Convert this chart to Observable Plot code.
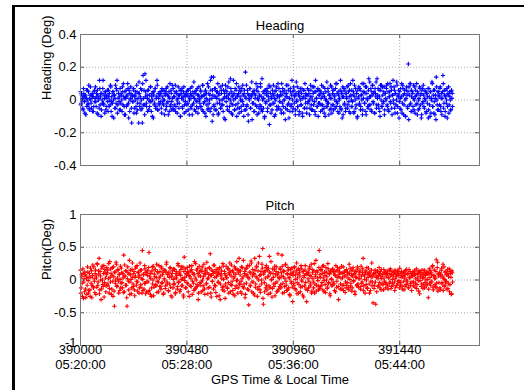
<!DOCTYPE html>
<html><head><meta charset="utf-8">
<script src="https://cdn.jsdelivr.net/npm/d3@7"></script>
<script src="https://cdn.jsdelivr.net/npm/@observablehq/plot@0.6"></script>
<style>
body{margin:0;background:#fff;}
#fig{position:relative;width:524px;height:390px;overflow:hidden;background:#fff;font-family:"Liberation Sans",Arial,sans-serif;}
#fig svg{position:absolute;left:0;}
.bl{position:absolute;background:#000;}
</style></head><body>
<div id="fig"><div class="bl" style="left:12px;top:5px;width:3px;bottom:0"></div><div class="bl" style="left:12px;top:5px;right:0;height:2px"></div></div>
<script>
// GPS seconds of week: series A sampled at t0 + 3i, series B at t0 + 1.5 + 3i
const t0 = 390000, dt = 3;
const headingA = [
.05,-.02,.03,.01,-.06,.04,-.01,.02,-.09,.06,.00,-.03,.05,-.05,.01,.08,-.02,.03,-.07,.02,
-.04,.06,.01,-.01,.04,-.08,.03,.00,-.05,.07,.02,-.10,.04,-.02,.12,-.03,.01,.05,-.06,.02,
.03,-.01,.06,-.04,.00,.09,-.07,.02,-.02,.05,-.11,.03,.01,-.05,.07,.12,-.03,.04,-.01,.02,
-.06,.04,.00,.08,-.03,.02,-.09,.05,.01,-.04,.03,.10,-.02,.06,-.07,.01,.04,-.14,.02,-.01,
.07,-.05,.03,.00,-.08,.05,-.02,.04,.11,-.04,.02,-.06,.06,-.14,.15,.01,-.03,.16,.05,-.02,
.03,-.07,.06,.00,-.04,.08,-.01,.02,-.10,.05,.03,-.03,.07,-.05,.01,.12,-.06,.04,-.02,.03,
-.01,.05,-.08,.02,.06,-.03,.00,.04,-.06,.07,-.02,.03,-.09,.05,.01,-.04,.06,-.01,.09,-.05,
.02,-.03,.05,-.07,.04,.00,-.02,.08,-.05,.03,-.10,.06,.01,-.04,.02,.05,-.08,.03,-.01,.04,
-.03,.06,-.06,.02,.00,.07,-.04,.03,-.09,.05,-.02,.01,.04,-.07,.06,-.01,.03,-.05,.08,.00,
-.04,.05,.02,-.06,.09,-.02,.03,-.08,.06,.01,-.03,.10,-.05,.04,.00,-.07,.06,.14,-.13,.03,
.14,-.04,.02,.07,-.06,.01,.05,-.09,.03,-.02,.08,-.05,.04,.00,-.03,.06,-.11,.02,.09,-.01,
.05,-.06,.03,.11,-.04,.00,.07,-.08,.02,-.03,.12,.04,-.06,.01,.06,-.10,.03,-.02,.08,-.05,
.02,.05,-.07,.00,.09,-.03,.04,-.06,.17,.01,-.04,.06,-.09,.03,.00,.07,-.05,.02,-.12,.04,
-.02,.06,-.07,.03,.10,-.04,.01,.05,-.08,.02,-.03,.08,-.06,.13,.00,-.05,.04,-.10,.06,-.01,
.03,-.07,.05,.00,-.15,.08,-.03,.02,-.06,.04,.09,-.02,.01,-.09,.06,-.04,.03,.10,-.05,.02,
-.01,.05,-.08,.03,.07,-.04,.00,.06,-.12,.02,.04,-.06,.09,-.02,.01,-.07,.05,-.03,.12,.00,
-.05,.06,.02,-.09,.04,-.01,.08,-.04,.03,-.07,.05,.00,-.03,.07,-.10,.02,.06,-.05,.01,.04,
-.08,.03,-.02,.06,.00,-.05,.09,-.03,.02,-.06,.04,.08,-.01,-.09,.05,.01,-.04,.07,-.02,.03,
.06,-.07,.01,.04,-.03,.08,-.05,.02,-.10,.05,.00,-.04,.07,-.02,.03,-.06,.09,.01,-.08,.04,
-.03,.06,.02,-.05,.10,-.01,.04,-.07,.03,.00,-.04,.12,-.06,.05,.02,-.09,.07,-.02,.04,-.05,
.01,.08,-.03,.05,-.07,.02,.10,-.04,.06,-.01,.03,-.08,.09,.00,-.05,.04,-.11,.06,.02,-.03,
.07,-.06,.03,.00,-.09,.05,.10,-.02,.04,-.07,.08,.01,-.04,.06,-.03,.11,.02,-.06,.05,.09,
-.01,.04,-.08,.07,.02,-.05,.13,.03,-.03,.06,-.07,.09,.00,-.04,.08,-.02,.05,-.09,.04,.01,
.07,-.03,.10,-.06,.02,.05,-.01,.08,-.05,.03,.12,-.02,.06,-.08,.04,.00,.09,-.04,.03,-.11,
.05,.01,-.06,.10,-.02,.07,-.09,.04,.00,-.10,.06,.03,-.05,.22,.08,-.03,.10,-.07,.02,.05,
-.04,.09,.00,-.08,.06,.03,-.02,.05,-.06,.01,.08,-.03,.04,-.09,.07,-.01,.03,-.05,.06,.00,
-.07,.04,.02,-.11,.07,-.03,.05,-.08,.01,.10,-.04,.06,-.01,-.09,.03,.14,.00,-.06,.05,.02,
-.03,.08,-.07,.04,.01,.15,-.05,.06,-.10,.02,-.02,.07,-.04,.03,-.08,.05,.00,-.06,.06,.04
];
const headingB = [
-.03,.04,.00,-.05,.07,.02,-.08,.03,.01,-.04,.06,-.02,.09,-.06,.03,.00,-.05,.04,.02,-.07,
.05,-.01,.08,-.04,.02,.06,-.09,.01,.12,-.03,.04,-.06,.00,.07,-.02,.03,-.08,.05,.01,-.04,
.06,-.07,.02,.04,-.03,.08,-.01,-.10,.05,.00,.03,-.05,.09,-.02,.06,-.08,.01,.04,-.06,.07,
-.02,.03,-.07,.05,.10,-.04,.01,-.09,.06,.02,-.03,.07,-.11,.04,.00,.08,-.05,.03,-.01,.06,
-.08,.02,.05,-.04,.09,-.06,.01,-.14,.04,-.02,.07,.00,-.05,.10,-.03,.06,-.09,.02,.12,-.04,
.01,.06,-.06,.03,-.01,.08,-.07,.04,.00,-.11,.05,-.02,.07,-.04,.02,.09,-.06,.01,-.03,.05,
.04,-.05,.07,-.02,.00,.06,-.09,.03,.05,-.04,.08,-.01,.02,-.07,.10,-.03,.04,-.06,.01,.07,
-.06,.02,.09,-.04,.05,-.08,.01,.03,-.02,.06,-.10,.04,.07,-.05,.00,.08,-.03,.02,-.07,.05,
.03,-.02,.06,-.09,.01,.04,-.05,.08,-.03,.02,.11,-.06,.05,.00,-.04,.07,-.08,.03,.01,-.02,
.06,-.04,.02,.09,-.07,.03,-.01,.05,-.10,.04,.00,-.06,.08,-.02,.03,.12,-.05,.01,.06,-.09,
-.03,.07,-.06,.02,.05,-.02,.10,-.08,.04,.00,-.05,.06,-.03,.09,-.07,.01,.04,-.12,.06,.02,
-.04,.08,.01,-.07,.04,.13,-.02,.05,-.09,.03,.00,-.06,.07,-.03,.10,.02,-.05,.04,-.08,.06,
.00,-.04,.07,-.01,.03,-.10,.06,.02,-.06,.09,-.03,.04,-.13,.01,.07,-.05,.03,.11,-.02,.05,
-.07,.04,.01,-.03,.06,-.09,.08,.00,-.05,.03,.10,-.04,.02,-.07,.05,.01,-.11,.06,-.02,.04,
.07,-.05,.02,.09,-.03,.04,-.08,.01,.06,-.02,.03,-.10,.05,.00,.08,-.06,.02,-.04,.07,-.01,
.03,-.06,.10,-.02,.05,-.08,.00,.04,-.05,.09,.02,-.03,.06,-.11,.01,.07,-.04,.03,-.07,.05,
.08,-.02,.03,-.06,.11,.00,-.04,.05,-.09,.02,.07,-.03,.04,-.08,.01,.06,-.05,.10,-.02,.03,
-.05,.07,-.01,.04,-.09,.02,.06,-.06,.00,.08,-.03,.05,-.07,.12,.01,-.04,.06,-.10,.03,-.02,
.05,-.03,.09,-.06,.02,.04,-.08,.07,.00,-.04,.11,-.02,.05,-.09,.03,.01,-.05,.08,-.03,.06,
-.06,.03,.00,.07,-.04,.10,-.02,.05,-.08,.01,.06,-.05,.04,-.11,.08,.02,-.03,.06,-.07,.04,
.02,-.05,.09,-.01,.06,-.08,.03,.00,-.04,.12,.05,-.07,.02,.07,-.03,.04,-.10,.01,.08,-.02,
.06,-.04,.03,.10,-.06,.01,.05,-.02,.08,-.09,.04,.00,-.05,.13,.02,-.03,.07,-.07,.03,.09,
-.02,.05,-.08,.04,.11,-.03,.01,.07,-.05,.02,-.10,.06,.09,-.04,.03,-.01,.08,-.06,.04,.00,
.09,-.04,.05,-.07,.02,.10,-.02,.06,-.09,.03,.00,.08,-.05,.04,-.03,.11,-.08,.02,.06,-.01,
-.05,.07,.02,-.08,.09,.03,-.03,.06,-.10,.01,.08,-.04,.05,-.12,.03,.10,-.02,.06,-.07,.04,
.01,-.06,.08,.02,-.03,.10,-.09,.04,.00,-.05,.07,.03,-.11,.06,-.02,.09,-.04,.01,.05,-.08,
.04,-.02,.07,-.06,.02,-.10,.05,.00,.11,-.04,.03,-.08,.06,.01,-.12,.08,-.03,.05,-.06,.03,
.07,-.04,.01,-.09,.05,.10,-.02,.03,-.07,.06,.00,-.11,.04,.08,-.03,.02,-.06,.05,.01,-.04
];
const pitchA = [
.15,-.12,.05,-.25,.10,-.03,-.18,.08,-.27,.02,-.08,.12,-.20,.04,-.15,.18,-.05,-.27,.07,-.10,
.20,-.02,.10,-.22,.03,.25,-.08,.14,.33,-.15,.06,-.30,.18,.00,-.10,.22,-.04,.12,-.18,.08,
-.06,.15,.02,-.20,.28,-.03,.10,-.14,.19,-.25,.05,-.40,.12,.00,.24,-.09,.16,-.02,.08,-.16,
.21,-.05,.11,-.12,.03,.38,-.18,.06,.14,-.08,-.40,.20,-.02,.09,-.22,.15,.01,-.12,.26,-.06,
.10,-.15,.04,.18,-.08,.22,-.03,.12,-.20,.07,.15,-.11,.02,.45,-.16,.08,-.05,.17,-.21,.11,
-.02,.14,-.18,.42,.05,-.22,.10,-.12,.20,.00,-.24,.09,.16,-.07,.04,-.19,.13,-.03,.22,-.10,
.06,-.14,.18,-.04,.11,-.20,.02,.15,-.09,.24,-.03,.08,-.16,.12,-.06,.19,-.24,.05,.10,-.12,
.17,-.05,.03,-.19,.13,.07,-.10,.22,-.02,.09,-.15,.16,.01,-.08,.20,-.26,.35,.04,-.12,.10,
-.04,.13,-.18,.07,.21,-.09,.02,.16,-.22,.11,-.05,.08,-.14,.25,.00,-.10,.18,-.30,.06,.12,
-.08,.15,-.03,.20,-.16,.05,.10,-.22,.14,-.06,.27,.02,-.12,.09,.18,.40,-.20,.07,-.02,.13,
-.14,.22,.04,-.09,.16,-.25,.08,.12,-.04,.19,-.30,.06,.14,-.11,.25,.01,-.17,.10,-.06,.21,
.03,-.13,.18,-.20,.09,.14,-.07,.23,-.02,-.16,.11,.05,-.24,.17,-.09,.28,.00,-.12,.15,-.05,
.08,-.18,.20,.02,-.10,.30,-.06,.13,-.22,.07,.18,-.14,.04,-.38,.22,-.08,.11,.26,-.03,.16,
-.20,.09,.33,-.11,.05,.20,-.25,.14,.00,.36,-.15,.08,-.06,.24,.48,-.37,.12,-.18,.03,.19,
-.08,.15,-.22,.06,.36,-.12,.10,.00,-.26,.17,.04,-.10,.21,-.05,.13,-.18,.08,.40,-.14,.02,
.18,-.07,.11,.38,-.20,.05,.14,-.10,.23,-.02,-.16,.09,.19,-.12,.03,-.24,.16,-.05,.10,-.33,
.12,-.08,.20,.01,-.15,.26,-.04,.09,-.20,.15,.06,-.11,.18,-.02,-.23,.13,.04,-.09,.22,-.14,
-.33,.10,.02,-.12,.17,.07,-.06,.24,-.17,.11,-.03,.14,-.20,.05,.30,-.08,.12,-.01,-.15,.45,
.08,-.10,.16,-.04,.21,.03,-.18,.12,-.07,.19,.00,-.13,.25,-.05,.10,-.21,.14,.02,-.09,.17,
-.03,.13,-.16,.07,.22,-.11,.04,.15,-.30,.09,.18,-.06,.11,-.14,.03,.20,-.08,.12,-.19,.06,
.16,-.04,.09,-.12,.24,.01,-.09,.14,-.17,.06,.19,-.02,.10,-.22,.13,.04,-.07,.17,-.11,.08,
.02,-.14,.21,-.05,.11,.33,-.09,.06,-.20,.14,.00,-.12,.09,.18,-.06,.12,-.16,.05,.26,-.03,
-.35,.10,-.08,.15,-.37,.04,.12,-.10,.07,.19,-.04,.13,-.15,.02,.09,-.07,.16,-.02,.11,-.12,
.06,.14,-.09,.03,.10,-.05,.17,-.13,.08,.01,-.08,.12,-.03,.15,-.11,.05,.09,-.06,.13,-.01,
.18,-.08,.04,.11,-.14,.07,-.02,.12,-.10,.15,.00,-.06,.09,-.12,.16,.03,-.05,.10,-.16,.06,
.13,-.03,.08,-.11,.02,.17,-.07,.10,-.01,.14,-.21,.05,.11,-.06,.09,-.13,.04,.15,-.04,.07,
-.09,.12,.01,-.27,.10,-.05,.14,-.02,.08,.20,-.11,.06,.15,-.07,.03,.31,-.12,.27,.09,-.04,
.11,-.15,.05,.18,-.06,.24,.02,-.10,.12,-.03,.08,-.14,.16,-.05,.10,-.18,.13,.04,-.21,.11
];
const pitchB = [
-.20,.08,-.05,.17,-.28,.02,.12,-.14,.06,-.22,.20,-.01,-.16,.10,-.25,.04,.14,-.08,.23,-.12,
.02,-.19,.15,.06,-.11,.24,-.03,.09,-.21,.13,.00,-.14,.21,-.07,.10,-.26,.16,.03,-.09,.19,
.11,-.08,.25,-.13,.04,.17,-.22,.07,-.02,.20,-.17,.12,-.05,.27,-.10,.03,.15,-.20,.09,.01,
-.12,.18,-.04,.10,-.19,.06,.23,-.08,.14,-.27,.02,.11,-.15,.30,-.03,.08,-.21,.16,.04,-.10,
.13,-.24,.06,.20,-.02,-.17,.11,.04,-.12,.26,-.07,.15,-.20,.01,.09,-.14,.22,-.05,.12,-.18,
.07,-.03,.19,-.16,.10,.02,-.25,.14,-.06,.21,-.11,.05,.16,-.09,.24,-.02,.11,-.18,.03,.13,
-.10,.20,-.05,.08,-.22,.15,.00,-.13,.12,.27,-.06,.09,-.17,.04,.18,-.11,.06,-.26,.14,.01,
-.07,.16,-.21,.10,.03,-.14,.25,-.04,.12,-.18,.07,.20,-.09,.02,-.23,.13,-.01,.17,-.12,.08,
.19,-.06,.11,-.25,.05,.14,-.10,.22,-.02,.09,-.16,.28,.03,-.12,.15,-.07,.10,-.20,.21,-.04,
.06,-.18,.13,.00,-.09,.24,-.14,.08,.17,-.05,.11,-.21,.03,.19,-.11,.07,-.26,.15,-.02,.10,
.23,-.08,.12,-.19,.05,.16,-.03,.10,-.24,.18,-.06,.09,.02,-.15,.21,-.10,.13,-.28,.07,.04,
-.11,.17,-.04,.11,.26,-.18,.06,-.08,.14,-.22,.03,.20,-.13,.09,-.01,.16,-.20,.12,.33,-.07,
.14,-.02,-.21,.19,.05,-.12,.10,-.27,.17,-.05,.08,.22,-.15,.02,.12,-.09,.29,-.18,.06,-.03,
.10,-.23,.15,-.06,.21,.03,-.14,.26,-.10,.07,-.19,.13,.00,.18,-.28,.09,-.04,.14,-.12,.22,
-.15,.05,.18,-.09,.12,-.20,.28,.01,-.13,.10,-.06,.16,-.24,.08,.20,-.03,-.17,.11,.04,-.10,
.16,-.12,.06,.21,-.05,.13,-.19,.02,.24,-.08,.10,-.15,.15,.04,-.22,.09,-.02,.18,-.11,.07,
-.05,.19,-.13,.08,.14,-.21,.03,.17,-.07,.11,-.18,.22,.00,-.10,.13,-.26,.07,.15,-.04,.10,
.09,-.16,.12,-.02,.20,-.09,.05,-.20,.16,.02,-.12,.25,-.06,.08,-.17,.14,.03,-.09,.19,-.13,
.04,.15,-.08,.10,-.15,.22,-.01,.07,-.19,.12,.05,-.11,.17,-.04,.09,-.24,.13,.01,-.07,.16,
.11,-.06,.08,-.18,.14,-.02,.19,-.10,.05,.12,-.14,.03,.21,-.08,.10,-.16,.06,.14,-.03,-.12,
-.08,.12,.03,-.15,.10,.18,-.05,.07,-.12,.15,-.01,.09,-.18,.04,.13,-.09,.20,-.06,.02,.11,
.14,-.10,.06,-.03,.17,-.16,.08,.01,.12,-.07,.19,-.13,.04,.10,-.20,.07,-.02,.15,-.09,.05,
.09,-.13,.11,-.03,.06,-.18,.14,.02,-.08,.10,-.12,.05,.16,-.06,.08,-.15,.03,.12,-.04,.09,
-.06,.10,-.14,.04,.15,-.03,.08,-.10,.13,-.05,.06,.11,-.16,.02,.09,-.08,.14,-.02,.07,-.12,
.10,-.04,.13,-.09,.05,.12,-.15,.03,.08,-.07,.16,-.02,.10,-.11,.04,.13,-.08,.06,-.03,.11,
-.09,.07,.14,-.05,.10,-.13,.03,.09,-.17,.12,-.01,.06,-.10,.15,.02,-.07,.11,-.12,.08,.00,
.12,-.06,.09,-.14,.17,.04,-.08,.11,-.03,.22,-.15,.07,.02,-.10,.13,-.05,.19,-.17,.06,.10,
-.12,.09,.15,-.04,.06,-.16,.20,.01,-.08,.13,-.02,.09,-.13,.05,.17,-.07,.10,-.22,.14,-.03
];
const xTicks = [390000, 390480, 390960, 391440];
const xLocal = ["05:20:00", "05:28:00", "05:36:00", "05:44:00"];
const xDomain = [390000, 391800];
const headingTicks = [-0.4, -0.2, 0, 0.2, 0.4];
const pitchTicks = [-1, -0.5, 0, 0.5, 1];
const titles = ["Heading", "Pitch"];
const yLabels = ["Heading (Deg)", "Pitch(Deg)"];
const xLabel = "GPS Time & Local Time";

const FONT = '"Liberation Sans", Arial, sans-serif';
const W = 524, ML = 80, MR = 45, MT = 34, FH = 131, TL = 4;
const FW = W - ML - MR;
const toRows = (a, b) => a.map((v, i) => ({t: t0 + i * dt, v}))
  .concat(b.map((v, i) => ({t: t0 + dt / 2 + i * dt, v})));

function panel({a, b, color, yTicks, title, ylabel, marginBottom, showX}) {
  const yDomain = [yTicks[0], yTicks[yTicks.length - 1]];
  const lowest = yTicks[0];
  const marks = [
    Plot.ruleX(xTicks.slice(1), {stroke: "#aaa", strokeDasharray: "1,2"}),
    Plot.ruleY(yTicks.slice(1, -1), {stroke: "#aaa", strokeDasharray: "1,2"}),
    Plot.dot(toRows(a, b), {x: "t", y: "v", symbol: "plus", r: 1.5, stroke: color, strokeWidth: 1.1}),
    // inward tick marks on all four sides
    Plot.ruleX(xTicks, {insetTop: FH - TL, stroke: "#555"}),
    Plot.ruleX(xTicks, {insetBottom: FH - TL, stroke: "#555"}),
    Plot.ruleY(yTicks, {insetRight: FW - TL, stroke: "#555"}),
    Plot.ruleY(yTicks, {insetLeft: FW - TL, stroke: "#555"}),
    Plot.frame({stroke: "#777"}),
    Plot.text(yTicks.filter(d => d !== lowest || !showX), {y: d => d, frameAnchor: "left", dx: -4, textAnchor: "end", text: d => String(d), fontSize: 13}),
    Plot.text([title], {frameAnchor: "top", dy: -14, text: d => d, fontSize: 13}),
    Plot.text([ylabel], {frameAnchor: "left", dx: -34, rotate: -90, text: d => d, fontSize: 13})
  ];
  if (showX) {
    marks.push(Plot.text([lowest], {y: d => d, frameAnchor: "left", dx: -4, dy: -3, textAnchor: "end", text: d => String(d), fontSize: 13}));
    marks.push(Plot.text(xTicks, {x: d => d, frameAnchor: "bottom", dy: 8.5, text: d => String(d), fontSize: 13}));
    marks.push(Plot.text(xTicks, {x: d => d, frameAnchor: "bottom", dy: 23.5, text: d => xLocal[xTicks.indexOf(d)], fontSize: 13}));
    marks.push(Plot.text([xLabel], {frameAnchor: "bottom", dy: 38.5, text: d => d, fontSize: 13}));
  }
  return Plot.plot({
    width: W, height: MT + FH + marginBottom, marginLeft: ML, marginRight: MR, marginTop: MT, marginBottom,
    style: {fontFamily: FONT, fontSize: "13px", color: "#000", background: "transparent", overflow: "visible"},
    x: {domain: xDomain, axis: null},
    y: {domain: yDomain, axis: null},
    marks
  });
}

const fig = document.getElementById("fig");
const p1 = panel({a: headingA, b: headingB, color: "#0000ff", yTicks: headingTicks, title: titles[0], ylabel: yLabels[0], marginBottom: 15, showX: false});
p1.style.top = "0px";
fig.appendChild(p1);
const p2 = panel({a: pitchA, b: pitchB, color: "#ff0000", yTicks: pitchTicks, title: titles[1], ylabel: yLabels[1], marginBottom: 45, showX: true});
p2.style.top = "180px";
fig.appendChild(p2);
</script>
</body></html>
